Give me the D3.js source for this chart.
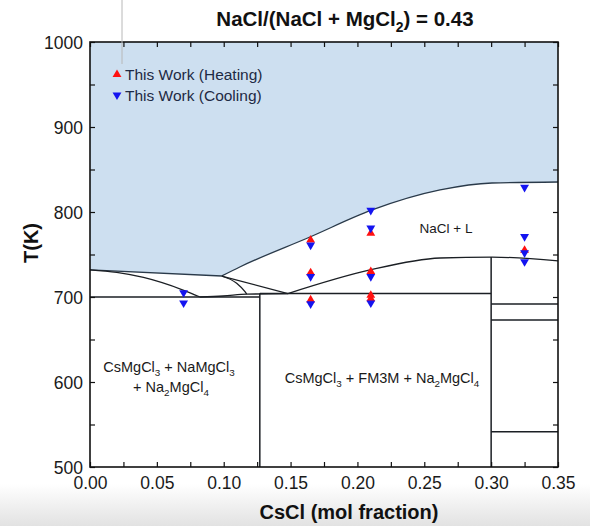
<!DOCTYPE html>
<html>
<head>
<meta charset="utf-8">
<script src="https://cdn.jsdelivr.net/npm/d3@7"></script>
<style>
  html, body { margin: 0; padding: 0; background: #fff; }
  svg { display: block; font-family: "Liberation Sans", Arial, Helvetica, sans-serif; }
</style>
</head>
<body>
<svg id="chart" width="590" height="526"></svg>
<script>
// Measured thermal arrests (CsCl mole fraction, temperature in K)
const heatX = [0.165, 0.165, 0.165, 0.21, 0.21, 0.21, 0.21, 0.325];
const heatT = [767, 728.5, 696.5, 775, 730, 702, 698, 755];
const coolX = [0.07, 0.07, 0.165, 0.165, 0.165, 0.21, 0.21, 0.21, 0.21, 0.325, 0.325, 0.325, 0.325];
const coolT = [705, 693, 761, 724, 692, 802, 781, 724, 693, 829, 771, 752, 741.5];

// Calculated phase boundaries
const liqStraight = [[0, 732], [0.0985, 724.7]];
const liqCurve = [[0.0985, 724.7], [0.112, 735.3], [0.1645, 770.6], [0.211, 802.4], [0.2618, 825.9], [0.3006, 834.1], [0.35, 835.3]];
const lineLeftDown = [[0, 732], [0.02, 729], [0.04, 723], [0.0696, 708.2], [0.0823, 700]];
const lineEutectic = [[0.0823, 700], [0.0995, 701.2], [0.1174, 703.3], [0.148, 704]];
const lineKnee = [[0.0985, 724.7], [0.1097, 716.1], [0.1159, 706.2], [0.1172, 703.3]];
const lineDiag = [[0.0985, 724.7], [0.148, 704]];
const lineSolidus = [[0.148, 704], [0.2094, 731.8], [0.2618, 745.9], [0.3006, 747], [0.35, 742.4]];
const segments = [
  [[0, 700], [0.127, 700]],
  [[0.127, 704], [0.30, 704]],
  [[0.127, 704], [0.127, 500]],
  [[0.30, 747], [0.30, 500]],
  [[0.30, 691.8], [0.35, 691.8]],
  [[0.30, 673], [0.35, 673]],
  [[0.30, 541.5], [0.35, 541.5]]
];

// Axis ticks
const xTicks = d3.range(0, 0.35001, 0.025);
const xLabels = ["0.00", "0.05", "0.10", "0.15", "0.20", "0.25", "0.30", "0.35"];
const yTicks = d3.range(500, 1000.01, 50);
const yLabels = ["500", "600", "700", "800", "900", "1000"];

const svg = d3.select("#chart");
const W = 590, H = 526;
const L = 90, R = 558, T = 42, B = 467;

const x = d3.scaleLinear().domain([0, 0.35]).range([L, R]);
const y = d3.scaleLinear().domain([500, 1000]).range([B, T]);

// soft grey band at the foot of the page
const defs = svg.append("defs");
const grad = defs.append("linearGradient").attr("id", "foot").attr("x1", 0).attr("y1", 0).attr("x2", 0).attr("y2", 1);
grad.append("stop").attr("offset", "0%").attr("stop-color", "#ffffff");
grad.append("stop").attr("offset", "100%").attr("stop-color", "#e2e2e2");
svg.append("rect").attr("x", 0).attr("y", 484).attr("width", W).attr("height", H - 484).attr("fill", "url(#foot)");

// liquid region (above the liquidus)
const straightGen = d3.line().x(d => x(d[0])).y(d => y(d[1]));
const curveGen = d3.line().x(d => x(d[0])).y(d => y(d[1])).curve(d3.curveMonotoneX);
const curvePath = curveGen(liqCurve);
const liquidPath = "M" + x(0) + "," + y(1000) +
  "L" + x(liqStraight[0][0]) + "," + y(liqStraight[0][1]) +
  "L" + x(liqStraight[1][0]) + "," + y(liqStraight[1][1]) +
  curvePath.replace(/^M[^A-Za-z]*/, "") +
  "L" + x(0.35) + "," + y(1000) + "Z";
svg.append("path").attr("d", liquidPath).attr("fill", "#cddff0").attr("stroke", "none");

const lineColor = "#1b1f24";
const g = svg.append("g").attr("fill", "none").attr("stroke", lineColor).attr("stroke-width", 1.3);
g.append("path").attr("d", straightGen(liqStraight)).attr("stroke", "#2a3a4a");
g.append("path").attr("d", curvePath).attr("stroke", "#2a3a4a");
g.append("path").attr("d", curveGen(lineLeftDown));
g.append("path").attr("d", curveGen(lineEutectic));
g.append("path").attr("d", curveGen(lineKnee));
g.append("path").attr("d", straightGen(lineDiag));
g.append("path").attr("d", curveGen(lineSolidus));
segments.forEach(s => g.append("path").attr("d", straightGen(s)).attr("stroke-width", 1.5));

// frame and inward ticks
const axisColor = "#111";
const bottomAxis = d3.axisBottom(x).tickValues(xTicks).tickSizeInner(-5).tickSizeOuter(0)
  .tickPadding(10).tickFormat(d => {
    const i = Math.round(d / 0.05 * 1000) / 1000;
    return Number.isInteger(i) ? xLabels[i] : "";
  });
const gb = svg.append("g").attr("transform", `translate(0,${B})`).call(bottomAxis);
const topAxis = d3.axisTop(x).tickValues(xTicks).tickSizeInner(-5).tickSizeOuter(0).tickFormat("");
const gt = svg.append("g").attr("transform", `translate(0,${T})`).call(topAxis);
const leftAxis = d3.axisLeft(y).tickValues(yTicks).tickSizeInner(-5).tickSizeOuter(0)
  .tickPadding(7).tickFormat(d => (d % 100 === 0 ? yLabels[(d - 500) / 100] : ""));
const gl = svg.append("g").attr("transform", `translate(${L},0)`).call(leftAxis);
const rightAxis = d3.axisRight(y).tickValues(yTicks).tickSizeInner(-5).tickSizeOuter(0).tickFormat("");
const gr = svg.append("g").attr("transform", `translate(${R},0)`).call(rightAxis);
[gb, gt, gl, gr].forEach(a => {
  a.select(".domain").remove();
  a.selectAll(".tick line").attr("stroke", axisColor).attr("stroke-width", 1.2);
  // minor ticks carry no label
  a.selectAll(".tick text").filter(function () { return this.textContent === ""; }).remove();
  a.selectAll("text").attr("font-family", "'Liberation Sans', Arial, sans-serif")
    .attr("font-size", 17.5).attr("fill", "#1a1a1a");
});
gl.selectAll("text").attr("dy", "0.38em");
svg.append("rect").attr("x", L).attr("y", T).attr("width", R - L).attr("height", B - T)
  .attr("fill", "none").attr("stroke", axisColor).attr("stroke-width", 1.6);

// thin grey guide near the top
svg.append("line").attr("x1", 122).attr("x2", 122).attr("y1", 0).attr("y2", 64)
  .attr("stroke", "#b8b8b8").attr("stroke-width", 1);

// experimental points
const tri = d3.symbol().type(d3.symbolTriangle).size(34)();
svg.append("g").selectAll("path").data(heatX.map((v, i) => [v, heatT[i]])).join("path")
  .attr("d", tri).attr("fill", "#ff1010")
  .attr("transform", d => `translate(${x(d[0])},${y(d[1])})`);
svg.append("g").selectAll("path").data(coolX.map((v, i) => [v, coolT[i]])).join("path")
  .attr("d", tri).attr("fill", "#1414f0")
  .attr("transform", d => `translate(${x(d[0])},${y(d[1])}) rotate(180)`);

// text with subscripts: the shift after a subscript is carried by the next run
function richText(sel, parts, size) {
  let carry = 0;
  parts.forEach(p => {
    if (typeof p === "string") {
      const ts = sel.append("tspan").text(p);
      if (carry) ts.attr("dy", carry);
      carry = 0;
    } else {
      sel.append("tspan").attr("font-size", size * 0.68).attr("dy", size * 0.28 + carry).text(p.sub);
      carry = -size * 0.28;
    }
  });
}

// title
const title = svg.append("text").attr("x", 345).attr("y", 26).attr("text-anchor", "middle")
  .attr("font-size", 20.5).attr("font-weight", "bold").attr("fill", "#111");
richText(title, ["NaCl/(NaCl + MgCl", { sub: "2" }, ") = 0.43"], 20.5);

// axis titles
svg.append("text").attr("x", 349).attr("y", 519).attr("text-anchor", "middle")
  .attr("font-size", 20).attr("font-weight", "bold").attr("fill", "#111").text("CsCl (mol fraction)");
svg.append("text").attr("transform", "translate(38,243) rotate(-90)").attr("text-anchor", "middle")
  .attr("font-size", 20).attr("font-weight", "bold").attr("fill", "#111").text("T(K)");

// legend
const legendColor = "#1e2a44";
const lg = svg.append("g");
lg.append("path").attr("d", tri).attr("fill", "#ff1010").attr("transform", "translate(117,74.5)");
lg.append("text").attr("x", 125).attr("y", 80).attr("font-size", 15.5).attr("fill", legendColor).text("This Work (Heating)");
lg.append("path").attr("d", tri).attr("fill", "#1414f0").attr("transform", "translate(117,95) rotate(180)");
lg.append("text").attr("x", 125).attr("y", 101).attr("font-size", 15.5).attr("fill", legendColor).text("This Work (Cooling)");

// phase-field labels
svg.append("text").attr("x", 446).attr("y", 233).attr("text-anchor", "middle")
  .attr("font-size", 13.5).attr("fill", "#1a1a1a").text("NaCl + L");
const t1 = svg.append("text").attr("x", 169).attr("y", 372).attr("text-anchor", "middle")
  .attr("font-size", 14.5).attr("fill", "#1a1a1a");
richText(t1, ["CsMgCl", { sub: "3" }, " + NaMgCl", { sub: "3" }], 14.5);
const t2 = svg.append("text").attr("x", 171).attr("y", 392).attr("text-anchor", "middle")
  .attr("font-size", 14.5).attr("fill", "#1a1a1a");
richText(t2, ["+ Na", { sub: "2" }, "MgCl", { sub: "4" }], 14.5);
const t3 = svg.append("text").attr("x", 382).attr("y", 383).attr("text-anchor", "middle")
  .attr("font-size", 14.5).attr("fill", "#1a1a1a");
richText(t3, ["CsMgCl", { sub: "3" }, " + FM3M + Na", { sub: "2" }, "MgCl", { sub: "4" }], 14.5);
</script>
</body>
</html>
